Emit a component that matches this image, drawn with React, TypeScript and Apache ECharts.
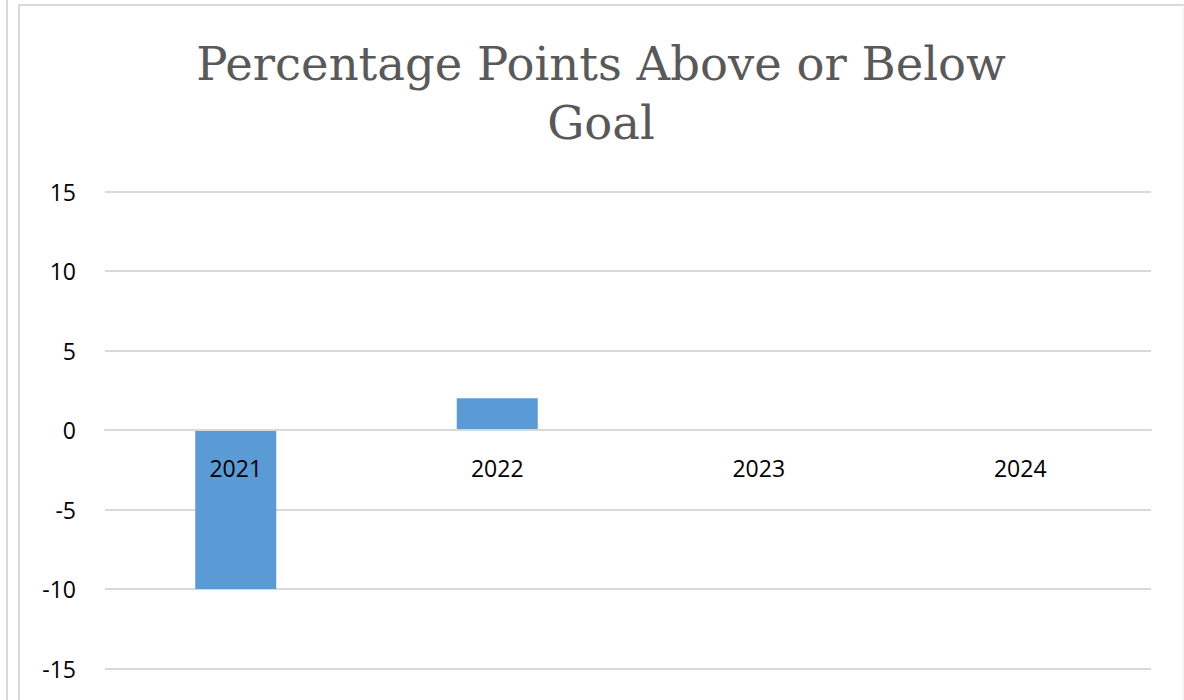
import React, { useEffect, useRef } from "react";
import * as echarts from "echarts";

const categories = ["2021", "2022", "2023", "2024"];
const values = [-10, 2, 0, 0];
const yMin = -15;
const yMax = 15;
const yInterval = 5;
const titleText = "Percentage Points Above or Below\nGoal";

export default function App() {
  const ref = useRef<HTMLDivElement>(null);
  useEffect(() => {
    if (!ref.current) return;
    const chart = echarts.init(ref.current, null, { renderer: "svg" });
    chart.setOption({
      animation: false,
      backgroundColor: "#ffffff",
      title: {
        text: titleText,
        left: 596,
        textAlign: "center",
        top: 29,
        textStyle: {
          fontFamily: "DejaVu Serif",
          fontSize: 46.5,
          fontWeight: "normal",
          color: "#595959",
          lineHeight: 59,
        },
      },
      graphic: [
        { type: "line", shape: { x1: 7, y1: 0, x2: 7, y2: 700 }, style: { stroke: "#d9d9d9", lineWidth: 2 } },
        { type: "line", shape: { x1: 19, y1: 5, x2: 19, y2: 700 }, style: { stroke: "#d9d9d9", lineWidth: 2 } },
        { type: "line", shape: { x1: 18, y1: 5, x2: 1184, y2: 5 }, style: { stroke: "#d9d9d9", lineWidth: 2 } },
        { type: "line", shape: { x1: 1183, y1: 5, x2: 1183, y2: 700 }, style: { stroke: "#ececec", lineWidth: 1 } },
      ],
      grid: {
        left: 105,
        right: 33,
        top: 191.5,
        bottom: 31.5,
        containLabel: false,
        outerBoundsMode: "none",
      },
      xAxis: {
        type: "category",
        data: categories,
        position: "bottom",
        offset: -238.5,
        axisLine: { show: true, onZero: false, lineStyle: { color: "#d9d9d9", width: 2 } },
        axisTick: { show: false },
        axisLabel: {
          fontFamily: "Open Sans",
          fontSize: 23,
          color: "#000000",
          margin: 26,
        },
        splitLine: { show: false },
        z: 3,
      },
      yAxis: {
        type: "value",
        min: yMin,
        max: yMax,
        interval: yInterval,
        axisLine: { show: false },
        axisTick: { show: false },
        axisLabel: {
          fontFamily: "Open Sans",
          fontSize: 23,
          color: "#000000",
          margin: 29,
        },
        splitLine: { lineStyle: { color: "#d9d9d9", width: 2 } },
      },
      series: [
        {
          type: "bar",
          data: values,
          barWidth: 81,
          itemStyle: { color: "#5b9bd5" },
          z: 1,
        },
      ],
    });
    return () => chart.dispose();
  }, []);
  return (
    <div
      ref={ref}
      style={{ position: "absolute", left: 0, top: 0, width: 1184, height: 700 }}
    />
  );
}
